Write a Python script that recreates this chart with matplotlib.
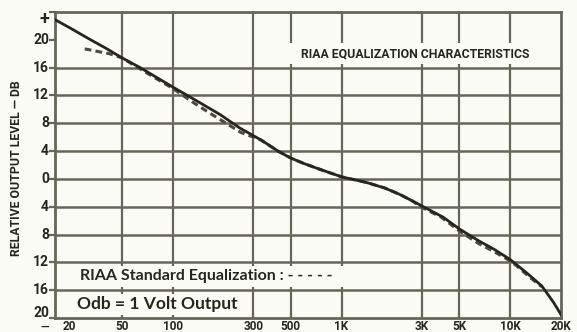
import matplotlib.pyplot as plt
from matplotlib.transforms import blended_transform_factory

# measured playback response (Hz, dB re 1 kHz)
meas_f = [20, 25, 32, 40, 50, 64, 80, 100, 146, 192, 250, 333, 420, 500, 600, 760,
          1000, 1400, 1800, 2200, 2600, 3000, 4000, 5000, 6500, 8000, 10000, 12500,
          15400, 18000, 20000]
meas_db = [22.9, 21.6, 20.1, 18.8, 17.4, 16.0, 14.6, 13.2, 10.9, 9.2, 7.3, 5.6, 4.0, 3.0,
           2.2, 1.3, 0.3, -0.5, -1.3, -2.2, -3.1, -3.9, -5.5, -7.2, -8.9, -10.1, -11.6,
           -13.5, -15.4, -17.7, -19.5]

# RIAA standard curve
riaa_f = [30, 42, 50, 64, 80, 100, 130, 167, 210, 252, 333, 420, 500, 600, 760, 1000,
          1400, 1800, 2200, 2600, 3000, 3900, 5000, 6500, 7800, 9400, 10800, 13000, 15400]
riaa_db = [18.7, 18.0, 17.4, 15.8, 14.4, 13.0, 11.1, 9.4, 7.9, 6.7, 5.6, 4.0, 3.0, 2.2,
           1.3, 0.3, -0.5, -1.3, -2.2, -3.1, -4.1, -5.5, -7.5, -9.3, -10.3, -11.4, -12.4,
           -14.1, -15.5]

x_ticks = [20, 50, 100, 300, 500, 1000, 3000, 5000, 10000, 20000]
x_labels = ["20", "50", "100", "300", "500", "1K", "3K", "5K", "10K", "20K"]
y_ticks = [20, 16, 12, 8, 4, 0, -4, -8, -12, -16, -20]
y_labels = ["20", "16", "12", "8", "4", "0", "4", "8", "12", "16", "20"]

paper = "#fcfcf6"
ink = "#26261e"
grid_c = "#66665a"
narrow = ["Roboto", "DejaVu Sans"]
round_font = ["Lato", "DejaVu Sans"]

fig = plt.figure(figsize=(5.77, 3.32), dpi=100, facecolor=paper)
ax = fig.add_axes([55 / 577, 14 / 332, 506 / 577, 306 / 332])
ax.set_facecolor(paper)
ax.set_xscale("log")
ax.set_xlim(20, 20000)
ax.set_ylim(-20, 24)

# grid, with gaps where the boxed captions sit
gaps = [
    (lambda f: 300 < f, (16, 20)),          # title box
    (lambda f: f < 2000, (-16, -12)),       # standard-curve caption
    (lambda f: f < 300, (-20, -16)),        # 0 dB reference caption
]
stub = 0.5
for f in x_ticks[1:-1]:
    cuts = sorted(g for test, g in gaps if test(f))
    start = -20
    for lo, hi in cuts:
        ax.plot([f, f], [start, lo + stub], color=grid_c, lw=1.6, zorder=1.5,
                solid_capstyle="butt")
        start = hi - stub
    ax.plot([f, f], [start, 24], color=grid_c, lw=1.6, zorder=1.5, solid_capstyle="butt")
for y in y_ticks[1:-1]:
    ax.axhline(y, color=grid_c, lw=1.8, zorder=1.5)
for s in ax.spines.values():
    s.set_color(grid_c)
    s.set_linewidth(2.0)

ax.plot(riaa_f, riaa_db, color="#4a4a40", lw=2.2, ls=(0, (2.2, 1.4)), zorder=2)
ax.plot(meas_f, meas_db, color=ink, lw=2.0, zorder=3)

ax.set_xticks([])
ax.set_xticks([], minor=True)
ax.set_yticks(y_ticks + [24])
ax.set_yticklabels([])
ax.tick_params(axis="y", length=4, width=1.6, color=grid_c)

yt = blended_transform_factory(ax.transAxes, ax.transData)
for y, lab in zip(y_ticks, y_labels):
    yy = -19.3 if y == -20 else y
    ax.text(-0.012, yy, lab, transform=yt, ha="right", va="center", fontsize=10,
            fontweight="bold", family=narrow, color=ink)
ax.text(-0.012, 23, "+", transform=yt, ha="right", va="center", fontsize=13,
        fontweight="bold", family=narrow, color=ink)
ax.text(-0.012, -21.3, "\u2014", transform=yt, ha="right", va="center", fontsize=8,
        fontweight="bold", family=narrow, color=ink)

xt = blended_transform_factory(ax.transData, ax.transAxes)
for f, lab in zip(x_ticks, x_labels):
    xf = f * 1.22 if f == 20 else f
    ax.text(xf, -0.006, lab, transform=xt, ha="center", va="top", fontsize=8.5,
            fontweight="bold", family=narrow, color=ink, clip_on=False)

fig.text(17 / 577, 1 - 168 / 332, "RELATIVE OUTPUT LEVEL \u2014 DB", rotation=90,
         ha="center", va="center", fontsize=8.8, fontweight="bold", family=narrow, color=ink)

ax.text(2750, 18, "RIAA EQUALIZATION CHARACTERISTICS", ha="center", va="center",
        fontsize=8.8, fontweight="bold", family=narrow, color=ink)
ax.text(28, -14, "RIAA Standard Equalization : - - - - -", ha="left", va="center",
        fontsize=11.5, fontweight="bold", family=round_font, color=ink)
ax.text(27, -18, "Odb = 1 Volt Output", ha="left", va="center",
        fontsize=12.5, fontweight="bold", family=round_font, color=ink)

fig.savefig("out.png", dpi=100, facecolor=paper)
